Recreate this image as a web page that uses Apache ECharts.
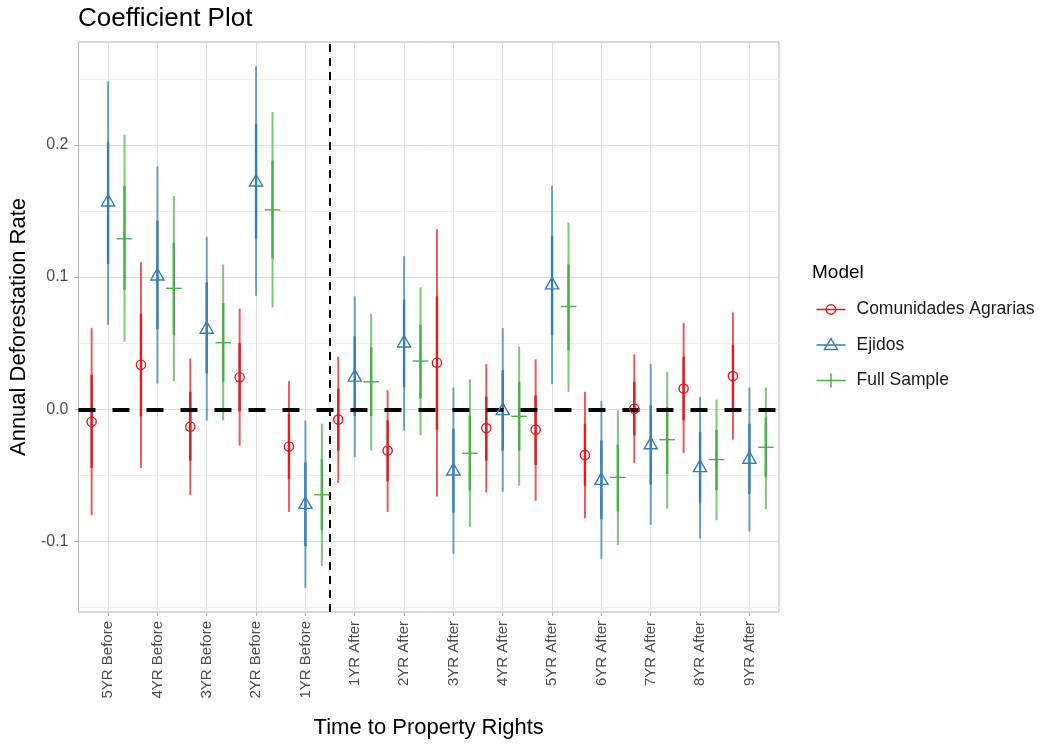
<!DOCTYPE html>
<html>
<head>
<meta charset="utf-8">
<script src="https://cdn.jsdelivr.net/npm/echarts@6/dist/echarts.min.js"></script>
<style>
  html, body { margin: 0; padding: 0; background: #ffffff; }
  #chart { width: 1042px; height: 744px; }
</style>
</head>
<body>
<div id="chart"></div>
<script>
// ---------- data ----------
const categories = ['5YR Before','4YR Before','3YR Before','2YR Before','1YR Before',
  '1YR After','2YR After','3YR After','4YR After','5YR After','6YR After','7YR After','8YR After','9YR After'];
const models = ['Comunidades Agrarias', 'Ejidos', 'Full Sample'];
const yTicks = [-0.1, 0, 0.1, 0.2];
const yMinorTicks = [-0.15, -0.05, 0.05, 0.15, 0.25];

// Comunidades Agrarias
const caEst   = [-0.0094, 0.0337, -0.0132, 0.0243, -0.0281, -0.0078, -0.0312, 0.0352, -0.0142, -0.0154, -0.0345, 0.0005, 0.0157, 0.0251];
const caLo95  = [-0.0801, -0.0443, -0.0649, -0.0274, -0.0776, -0.0557, -0.0776, -0.0659, -0.0629, -0.0692, -0.0824, -0.0405, -0.0332, -0.0230];
const caHi95  = [0.0614, 0.1113, 0.0385, 0.0760, 0.0213, 0.0398, 0.0144, 0.1361, 0.0342, 0.0378, 0.0132, 0.0416, 0.0652, 0.0732];
const caLo68  = [-0.0443, -0.0053, -0.0388, -0.0015, -0.0528, -0.0312, -0.0545, -0.0154, -0.0388, -0.0421, -0.0578, -0.0198, -0.0084, 0.0005];
const caHi68  = [0.0259, 0.0722, 0.0132, 0.0500, -0.0034, 0.0157, -0.0084, 0.0854, 0.0094, 0.0106, -0.0109, 0.0208, 0.0398, 0.0487];

// Ejidos
const ejEst   = [0.1570, 0.1011, 0.0608, 0.1721, -0.0717, 0.0246, 0.0504, -0.0464, -0.0008, 0.0943, -0.0535, -0.0266, -0.0439, -0.0375];
const ejLo95  = [0.0639, 0.0195, -0.0084, 0.0859, -0.1351, -0.0363, -0.0160, -0.1093, -0.0624, 0.0190, -0.1131, -0.0875, -0.0976, -0.0925];
const ejHi95  = [0.2480, 0.1838, 0.1306, 0.2595, -0.0084, 0.0854, 0.1158, 0.0165, 0.0614, 0.1690, 0.0063, 0.0342, 0.0094, 0.0165];
const ejLo68  = [0.1100, 0.0606, 0.0271, 0.1293, -0.1034, -0.0050, 0.0170, -0.0781, -0.0312, 0.0563, -0.0831, -0.0570, -0.0705, -0.0641];
const ejHi68  = [0.2020, 0.1428, 0.0960, 0.2160, -0.0401, 0.0550, 0.0829, -0.0147, 0.0297, 0.1310, -0.0236, 0.0030, -0.0173, -0.0109];

// Full Sample
const fsEst   = [0.1290, 0.0915, 0.0504, 0.1508, -0.0646, 0.0208, 0.0365, -0.0332, -0.0053, 0.0778, -0.0515, -0.0230, -0.0380, -0.0287];
const fsLo95  = [0.0512, 0.0213, -0.0084, 0.0770, -0.1186, -0.0312, -0.0198, -0.0890, -0.0578, 0.0132, -0.1027, -0.0751, -0.0839, -0.0755];
const fsHi95  = [0.2076, 0.1614, 0.1095, 0.2249, -0.0109, 0.0722, 0.0922, 0.0226, 0.0474, 0.1412, -0.0008, 0.0284, 0.0074, 0.0165];
const fsLo68  = [0.0905, 0.0563, 0.0208, 0.1140, -0.0915, -0.0050, 0.0081, -0.0611, -0.0312, 0.0449, -0.0773, -0.0489, -0.0611, -0.0515];
const fsHi68  = [0.1690, 0.1260, 0.0804, 0.1880, -0.0375, 0.0470, 0.0639, -0.0046, 0.0208, 0.1095, -0.0266, 0.0017, -0.0154, -0.0063];

// ---------- build ----------
const colors = ['#E41A1C', '#377EB8', '#4DAF4A'];
const dodge = [-1/3, 0, 1/3];
const modelData = [
  [caEst, caLo95, caHi95, caLo68, caHi68],
  [ejEst, ejLo95, ejHi95, ejLo68, ejHi68],
  [fsEst, fsLo95, fsHi95, fsLo68, fsHi68]
];
const catIdx = categories.map((c, i) => i);

function rows(m) {
  const d = modelData[m];
  return categories.map((c, i) => [i + dodge[m], d[0][i], d[1][i], d[2][i], d[3][i], d[4][i]]);
}

function barRenderer(color) {
  return function (params, api) {
    const x = api.value(0);
    const a = api.coord([x, api.value(2)]);
    const b = api.coord([x, api.value(3)]);
    const c = api.coord([x, api.value(4)]);
    const d = api.coord([x, api.value(5)]);
    return {
      type: 'group',
      children: [
        { type: 'line', shape: { x1: a[0], y1: a[1], x2: b[0], y2: b[1] },
          style: { stroke: color, lineWidth: 2, opacity: 0.72 } },
        { type: 'line', shape: { x1: c[0], y1: c[1], x2: d[0], y2: d[1] },
          style: { stroke: color, lineWidth: 2.4, opacity: 1 } }
      ]
    };
  };
}

function markerRenderer(m) {
  const color = colors[m];
  return function (params, api) {
    const p = api.coord([api.value(0), api.value(1)]);
    if (m === 0) {
      return { type: 'circle', shape: { cx: p[0], cy: p[1], r: 4.6 },
        style: { fill: 'none', stroke: color, lineWidth: 1.4 } };
    } else if (m === 1) {
      return { type: 'polygon',
        shape: { points: [[p[0], p[1] - 7.2], [p[0] - 6.6, p[1] + 4.3], [p[0] + 6.6, p[1] + 4.3]] },
        style: { fill: 'none', stroke: color, lineWidth: 1.4 } };
    }
    return { type: 'group', children: [
      { type: 'line', shape: { x1: p[0] - 7.8, y1: p[1], x2: p[0] + 7.8, y2: p[1] },
        style: { stroke: color, lineWidth: 1.4 } },
      { type: 'line', shape: { x1: p[0], y1: p[1] - 7.8, x2: p[0], y2: p[1] + 7.8 },
        style: { stroke: color, lineWidth: 1.4 } }
    ]};
  };
}

const icons = [
  'path://M0,0L0,0M35,14L35,14M0,7L29,7M19.2,7A4.7,4.7,0,1,1,9.8,7A4.7,4.7,0,1,1,19.2,7',
  'path://M0,0L0,0M35,14L35,14M0,7L29,7M14.5,0.6L8,11.4L21,11.4Z',
  'path://M0,0L0,0M35,14L35,14M0,7L29,7M14.5,0L14.5,14'
];

const refMarkLine = {
  silent: true, symbol: ['none', 'none'], label: { show: false }, z: 5,
  emphasis: { disabled: true },
  data: [
    { yAxis: 0, lineStyle: { color: '#000000', width: 4, type: [17, 17] } },
    { xAxis: 4.5, lineStyle: { color: '#000000', width: 2, type: [8, 6] } }
  ]
};
const minorGridMarkLine = {
  silent: true, symbol: ['none', 'none'], label: { show: false }, z: 0,
  emphasis: { disabled: true },
  lineStyle: { color: '#ededed', width: 1, type: 'solid' },
  data: yMinorTicks.map(v => ({ yAxis: v }))
};

const series = [];
models.forEach((name, m) => {
  const s = {
    type: 'custom', name: name, z: 2, silent: true,
    renderItem: barRenderer(colors[m]),
    encode: { x: 0, y: [1, 2, 3] },
    data: rows(m)
  };
  if (m === 0) s.markLine = refMarkLine;
  if (m === 1) s.markLine = minorGridMarkLine;
  series.push(s);
});
models.forEach((name, m) => {
  series.push({
    type: 'custom', name: name, z: 10, silent: true,
    renderItem: markerRenderer(m),
    encode: { x: 0, y: 1 },
    data: rows(m)
  });
});

const chart = echarts.init(document.getElementById('chart'));
chart.setOption({
  animation: false,
  color: colors,
  textStyle: { fontFamily: 'Liberation Sans, Arial, Helvetica, sans-serif' },
  title: [
    { text: 'Coefficient Plot', left: 78, top: 6, padding: 0,
      textStyle: { fontSize: 26, fontWeight: 'normal', color: '#000000' } },
    { text: 'Model', left: 812, top: 263, padding: 0,
      textStyle: { fontSize: 19, fontWeight: 'normal', color: '#000000' } }
  ],
  legend: {
    orient: 'vertical', left: 814, top: 300, padding: 0,
    itemWidth: 35, itemHeight: 14, itemGap: 16.5,
    selectedMode: false,
    textStyle: { fontSize: 17.5, color: '#1a1a1a' },
    data: models.map((n, m) => ({
      name: n, icon: icons[m],
      itemStyle: { color: 'none', borderColor: colors[m], borderWidth: 1.5 }
    }))
  },
  grid: {
    left: 77, right: 263, top: 42, bottom: 132,
    show: true, borderColor: '#b3b3b3', borderWidth: 1, backgroundColor: 'transparent'
  },
  xAxis: {
    type: 'value', min: -0.6, max: 13.6, position: 'bottom',
    name: 'Time to Property Rights', nameLocation: 'middle', nameGap: 105,
    nameTextStyle: { fontSize: 22, color: '#000000' },
    axisLine: { show: false, onZero: false },
    axisTick: { show: true, length: 4, lineStyle: { color: '#b3b3b3' }, customValues: catIdx },
    axisLabel: { customValues: catIdx, rotate: 90, fontSize: 15, color: '#4d4d4d', margin: 9,
      formatter: v => categories[Math.round(v)] },
    splitLine: { show: true, lineStyle: { color: '#dedede', width: 1 } }
  },
  yAxis: {
    type: 'value', min: -0.1533, max: 0.2778, position: 'left',
    name: 'Annual Deforestation Rate', nameLocation: 'middle', nameGap: 44,
    nameTextStyle: { fontSize: 22, color: '#000000' },
    axisLine: { show: false, onZero: false },
    axisTick: { show: true, length: 4, lineStyle: { color: '#b3b3b3' }, customValues: yTicks },
    axisLabel: { customValues: yTicks, fontSize: 16, color: '#4d4d4d', margin: 10,
      formatter: v => v.toFixed(1) },
    splitLine: { show: true, lineStyle: { color: '#dedede', width: 1 } }
  },
  series: series
});
</script>
</body>
</html>
